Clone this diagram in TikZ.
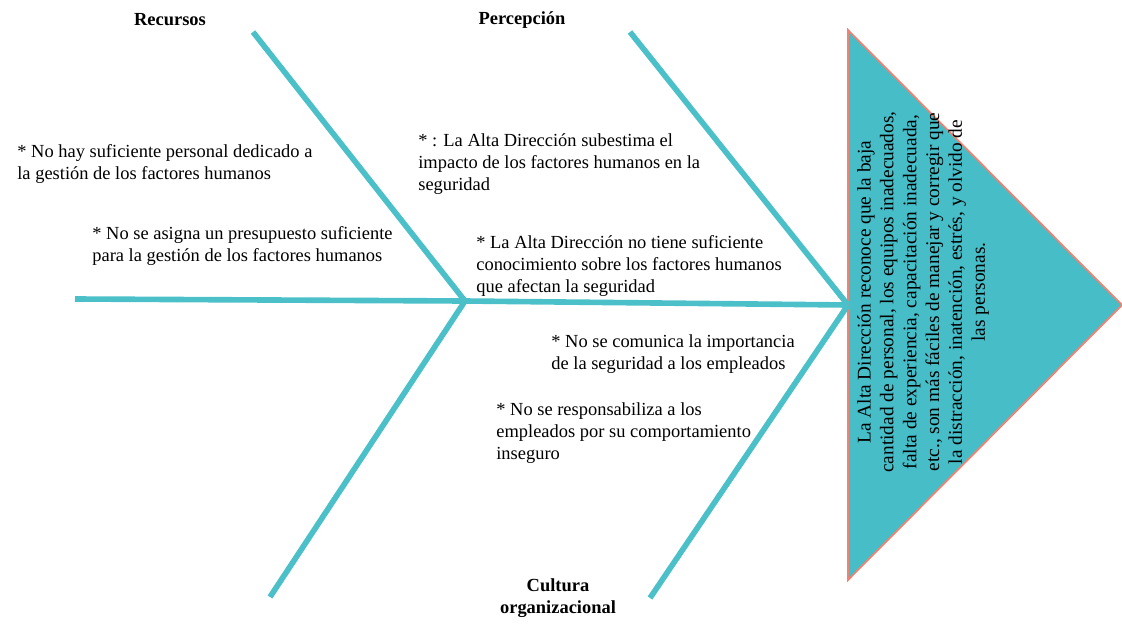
\documentclass[tikz,border=0pt]{standalone}
\usepackage{fontspec}
\setmainfont{Liberation Serif}
\usepackage{tikz}
\usetikzlibrary{positioning}

\definecolor{boneteal}{HTML}{4BC0C8}
\definecolor{headfill}{HTML}{47BDC7}
\definecolor{headedge}{HTML}{F08272}

\tikzset{
  bone/.style={draw=boneteal, line width=3.2pt},
  cause/.style={align=left, anchor=north west, inner sep=0pt, font=\fontsize{10.5}{12.5}\selectfont},
  category/.style={align=center, inner sep=0pt, font=\fontsize{10.5}{12.5}\selectfont\bfseries},
}

\begin{document}
\begin{tikzpicture}[x=0.02cm,y=-0.02cm]
\useasboundingbox (0,0) rectangle (1122,632);

\coordinate (tail) at (75,299); %left end of spine
\coordinate (jointA) at (465,301);
\coordinate (jointB) at (848,305);
\coordinate (recTip) at (253,32);
\coordinate (culTipA) at (270,597);
\coordinate (perTip) at (630,32);
\coordinate (culTipB) at (650,598);
\coordinate (headTop) at (848,30);
\coordinate (headBot) at (848,580);
\coordinate (headApex) at (1122,305);

\filldraw[fill=headfill, draw=headedge, line width=1pt] (headTop) -- (headApex) -- (headBot) -- cycle; %head

\draw[bone] (tail) -- (jointA) -- (jointB); %spine
\draw[bone] (recTip) -- (jointA); %bone recursos
\draw[bone] (jointA) -- (culTipA); %bone cultura 1
\draw[bone] (perTip) -- (jointB); %bone percepcion
\draw[bone] (jointB) -- (culTipB); %bone cultura 2

\node[category] (recursos) at (170,20) {Recursos};
\node[category] (percepcion) at (522,20) {Percepción};
\node[category] (cultura) at (558,598) {Cultura\\organizacional};

\node[cause] (rec1) at (17,144) {* No hay suficiente personal dedicado a\\la gestión de los factores humanos};
\node[cause] (rec2) at (92,226) {* No se asigna un presupuesto suficiente\\para la gestión de los factores humanos};
\node[cause] (per1) at (418,133) {* : La Alta Dirección subestima el\\impacto de los factores humanos en la\\seguridad};
\node[cause] (per2) at (476,235) {* La Alta Dirección no tiene suficiente\\conocimiento sobre los factores humanos\\que afectan la seguridad};
\node[cause] (cul1) at (551,334) {* No se comunica la importancia\\de la seguridad a los empleados};
\node[cause] (cul2) at (496,402) {* No se responsabiliza a los\\empleados por su comportamiento\\inseguro};

\node[align=center, rotate=90, inner sep=0pt, font=\fontsize{11}{13}\selectfont] (problema) at (923,292) {La Alta Dirección reconoce que la baja\\cantidad de personal, los equipos inadecuados,\\falta de experiencia, capacitación inadecuada,\\etc., son más fáciles de manejar y corregir que\\la distracción, inatención, estrés, y olvido de\\las personas.};

\end{tikzpicture}
\end{document}
